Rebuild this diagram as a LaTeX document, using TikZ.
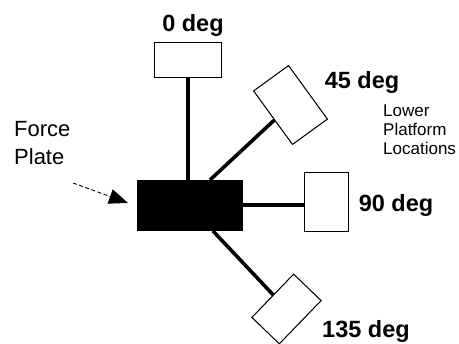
\documentclass[tikz,border=0pt]{standalone}
\usepackage{fontspec}
\setmainfont{Liberation Sans}
\usetikzlibrary{arrows.meta}
\begin{document}
\begin{tikzpicture}[x=1pt,y=-1pt,
  platbox/.style={draw=black,line width=0.9pt,fill=white,inner sep=0pt,rectangle},
  arm/.style={line width=3.6pt,black},
  deglabel/.style={font=\fontsize{23.5}{28}\selectfont\bfseries,inner sep=0pt,anchor=base},
  note/.style={inner sep=0pt,anchor=base west,align=left}]
\useasboundingbox (0,0) rectangle (459,344);
% force plate
\node[fill=black,minimum width=106pt,minimum height=51pt,inner sep=0pt] (fp) at (190,205.5) {};
% platforms
\node[platbox,minimum width=67pt,minimum height=35pt] (b0) at (188,59.5) {};
\node[platbox,minimum width=66pt,minimum height=43pt,rotate=-54] (b45) at (290.5,105) {};
\node[platbox,minimum width=44pt,minimum height=59pt] (b90) at (326,201.5) {};
\node[platbox,minimum width=60pt,minimum height=38pt,rotate=46] (b135) at (286.5,309) {};
% arm start points
\coordinate (s0) at (188,180);
\coordinate (s45) at (210,180);
\coordinate (s90) at (243,205);
\coordinate (s135) at (213,231);
\draw[arm] (s0) -- (s0 |- b0.south);
\draw[arm] (s45) -- (b45);
\draw[arm] (s90) -- (s90 -| b90.west);
\draw[arm] (s135) -- (b135);
\node[platbox,minimum width=66pt,minimum height=43pt,rotate=-54] at (b45) {};
\node[platbox,minimum width=60pt,minimum height=38pt,rotate=46] at (b135) {};
% labels
\node[deglabel] (l0) at (193,32) {0 deg};
\node[deglabel] (l45) at (362,89) {45 deg};
\node[deglabel] (l90) at (396,212) {90 deg};
\node[deglabel] (l135) at (366,338) {135 deg};
\node[note,font=\fontsize{17}{19}\selectfont] (lpl) at (383,155) {Lower\\Platform\\Locations};
\node[note,font=\fontsize{22}{28}\selectfont] (fpl) at (14,165) {Force\\Plate};
% arrow
\coordinate (a0) at (73,183);
\coordinate (a1) at (128,203);
\draw[line width=0.9pt,dash pattern=on 4pt off 2.5pt,-{Triangle[length=19pt,width=15pt]}] (a0) -- (a1);
\end{tikzpicture}
\end{document}
